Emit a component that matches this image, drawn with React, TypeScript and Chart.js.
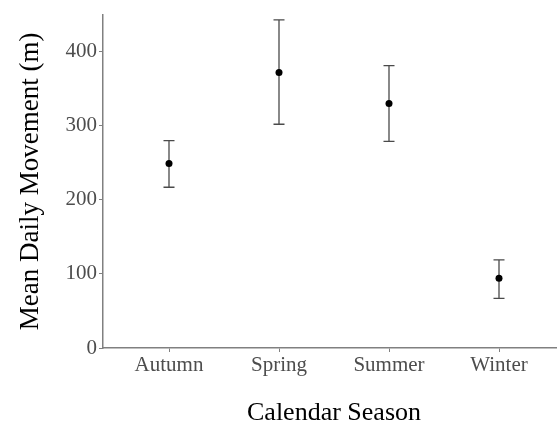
import React, { useEffect, useRef } from "react";
import { Chart, registerables } from "chart.js";

Chart.register(...registerables);

const categories = ["Autumn", "Spring", "Summer", "Winter"];
const means = [249, 372, 330, 94];
const lower = [217, 302, 279, 67];
const upper = [280, 443, 381, 119];
const yTicks = [0, 100, 200, 300, 400];

const serif = "'Liberation Serif', 'Times New Roman', serif";

const errorBars = {
  id: "errorBars",
  beforeDatasetsDraw(chart: any) {
    const { ctx, scales } = chart;
    const xs = scales.x;
    const ys = scales.y;
    ctx.save();
    ctx.strokeStyle = "#4a4a4a";
    ctx.lineWidth = 1.3;
    categories.forEach((_, i) => {
      const x = xs.getPixelForValue(i);
      const yl = ys.getPixelForValue(lower[i]);
      const yh = ys.getPixelForValue(upper[i]);
      ctx.beginPath();
      ctx.moveTo(x, yl);
      ctx.lineTo(x, yh);
      ctx.moveTo(x - 5.5, yl);
      ctx.lineTo(x + 5.5, yl);
      ctx.moveTo(x - 5.5, yh);
      ctx.lineTo(x + 5.5, yh);
      ctx.stroke();
    });
    ctx.restore();
  },
};

export default function App() {
  const ref = useRef<HTMLCanvasElement>(null);
  useEffect(() => {
    if (!ref.current) return;
    const chart = new Chart(ref.current, {
      type: "scatter",
      data: {
        datasets: [
          {
            data: means.map((v, i) => ({ x: i, y: v })),
            backgroundColor: "#000000",
            borderColor: "#000000",
            pointRadius: 3.5,
            pointBorderWidth: 0,
          },
        ],
      },
      plugins: [errorBars],
      options: {
        animation: false,
        responsive: false,
        layout: { padding: { top: 13, right: 0, left: 0, bottom: 0 } },
        plugins: { legend: { display: false }, tooltip: { enabled: false } },
        scales: {
          x: {
            type: "linear",
            min: -0.6,
            max: 3.6,
            afterBuildTicks: (s: any) => {
              s.ticks = categories.map((_, i) => ({ value: i }));
            },
            afterFit: (s: any) => {
              s.height = 75;
            },
            ticks: {
              callback: (v: any) => categories[v as number] ?? "",
              color: "#4d4d4d",
              font: { family: serif, size: 21 },
              padding: 1,
              maxRotation: 0,
              autoSkip: false,
            },
            grid: {
              drawOnChartArea: false,
              tickLength: 4,
              tickColor: "#808080",
              tickWidth: 1,
            },
            border: { color: "#808080", width: 1.5 },
            title: {
              display: true,
              text: "Calendar Season",
              color: "#000000",
              font: { family: serif, size: 26, lineHeight: 0.75 },
              padding: { top: 0, bottom: 0 },
            },
          },
          y: {
            min: 0,
            max: 450,
            afterBuildTicks: (s: any) => {
              s.ticks = yTicks.map((v) => ({ value: v }));
            },
            afterFit: (s: any) => {
              s.width = 103;
            },
            ticks: {
              color: "#4d4d4d",
              font: { family: serif, size: 21 },
              padding: 2,
            },
            grid: {
              drawOnChartArea: false,
              tickLength: 4,
              tickColor: "#808080",
              tickWidth: 1,
            },
            border: { color: "#808080", width: 1.5 },
            title: {
              display: true,
              text: "Mean Daily Movement (m)",
              color: "#000000",
              font: { family: serif, size: 27, lineHeight: 1 },
              padding: { top: 17, bottom: 0 },
            },
          },
        },
      },
    });
    return () => chart.destroy();
  }, []);
  return (
    <div style={{ position: "absolute", left: 0, top: 0, width: 557, height: 423, overflow: "hidden", background: "#fff" }}>
      <canvas ref={ref} width={569} height={423} style={{ display: "block" }} />
    </div>
  );
}
